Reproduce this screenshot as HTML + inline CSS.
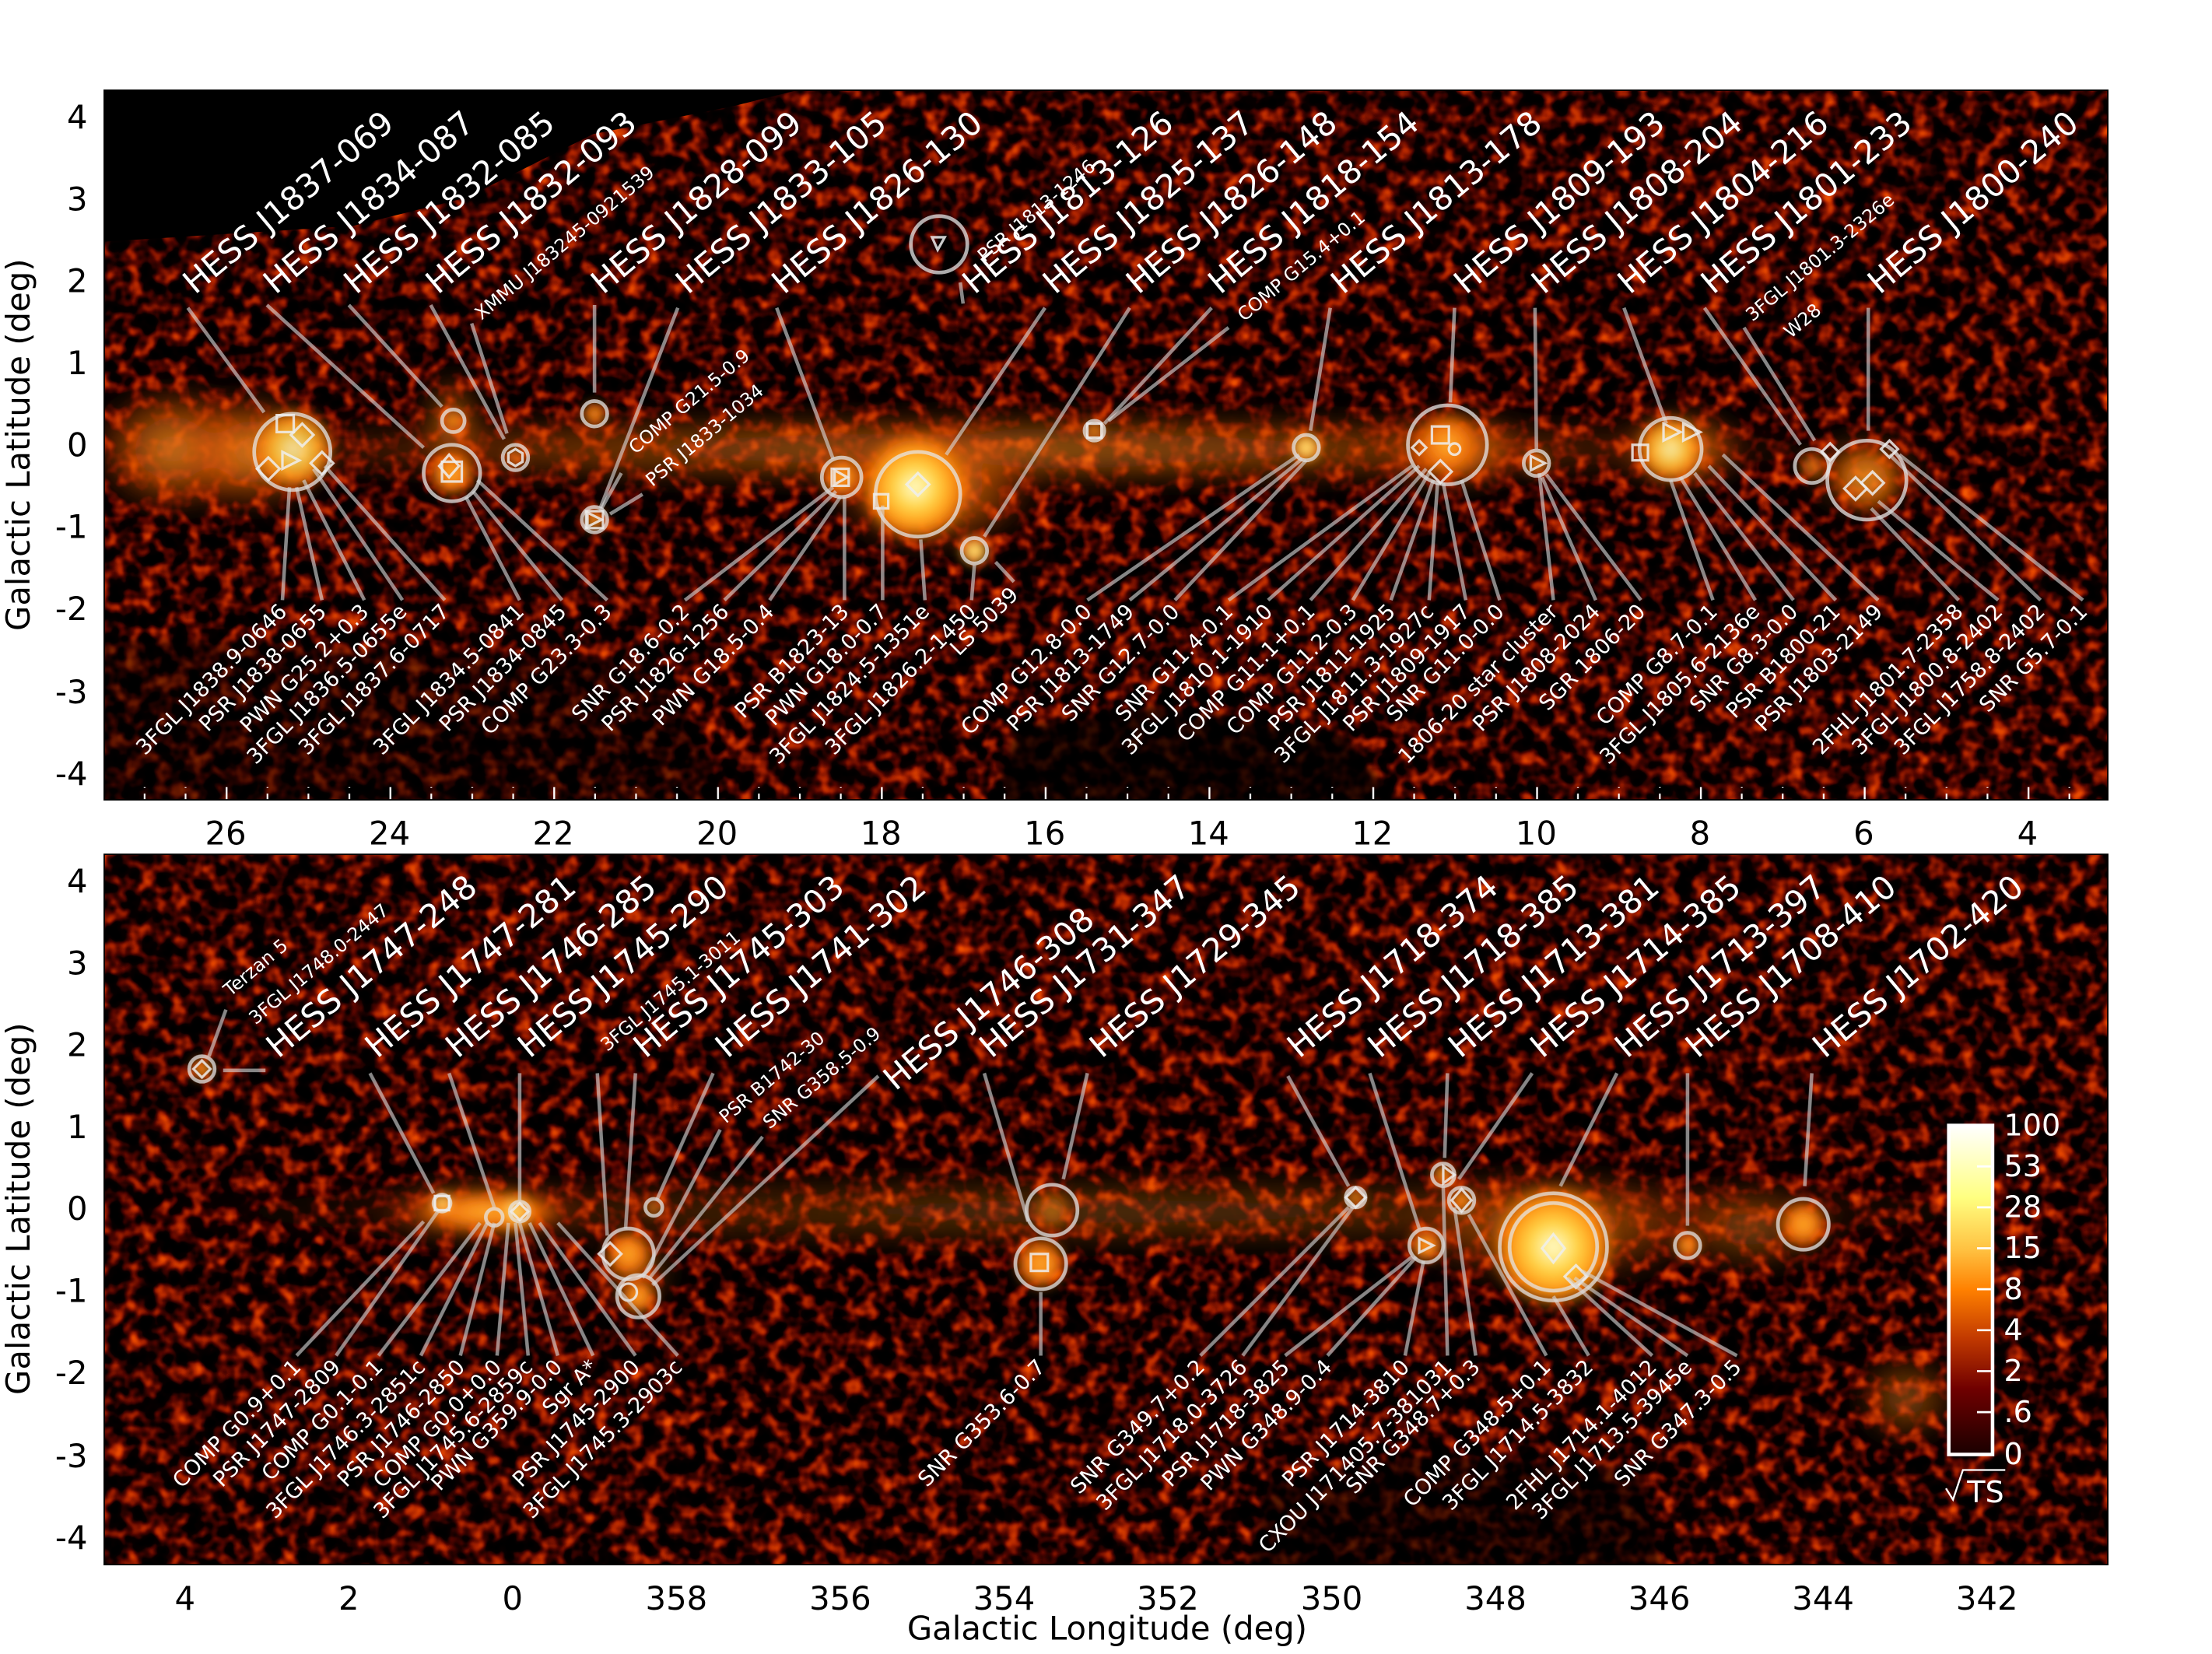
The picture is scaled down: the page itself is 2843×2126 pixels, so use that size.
<!DOCTYPE html>
<html><head><meta charset="utf-8"><style>
html,body{margin:0;padding:0;background:#fff;}
svg{display:block;}
text{font-family:"DejaVu Sans","Liberation Sans",sans-serif;}
.big{font-size:23px;fill:#fff;}
.sm{font-size:13px;fill:#fff;}
.sb{font-size:15px;fill:#fff;}
.tl{font-size:23px;fill:#000;}
.ln{stroke:#d8d8d8;stroke-opacity:.62;stroke-width:2.5;fill:none;}
.cc{stroke:#e6e6e6;stroke-opacity:.75;stroke-width:2.6;fill:none;}
.mk{stroke:#eee;stroke-opacity:.85;stroke-width:1.8;fill:none;}
</style></head><body>
<svg width="2843" height="2126" viewBox="0 0 1566.4 1171.3" preserveAspectRatio="none" xmlns="http://www.w3.org/2000/svg">
<defs>
<filter id="nz" x="0" y="0" width="1" height="1" color-interpolation-filters="sRGB">
<feTurbulence type="fractalNoise" baseFrequency="0.09" numOctaves="2" seed="7"/>
<feColorMatrix type="matrix" values="1 0 0 0 0  1 0 0 0 0  1 0 0 0 0  0 0 0 0 1"/>
<feComponentTransfer>
<feFuncR type="table" tableValues="0 0 0 0.03 0.32 0.66 0.9 1"/>
<feFuncG type="table" tableValues="0 0 0 0 0.02 0.13 0.28 0.42"/>
<feFuncB type="table" tableValues="0 0 0 0 0 0 0 0.04"/>
<feFuncA type="linear" slope="0" intercept="1"/>
</feComponentTransfer>
</filter>
<filter id="bl" x="-50%" y="-50%" width="200%" height="200%"><feGaussianBlur stdDeviation="8"/></filter>
<filter id="bl3" x="-50%" y="-50%" width="200%" height="200%"><feGaussianBlur stdDeviation="3"/></filter>
<filter id="bl2" x="-50%" y="-50%" width="200%" height="200%"><feGaussianBlur stdDeviation="4"/></filter>
<radialGradient id="glow"><stop offset="0" stop-color="#ff9a25" stop-opacity=".85"/><stop offset=".55" stop-color="#d85a05" stop-opacity=".55"/><stop offset="1" stop-color="#a02000" stop-opacity="0"/></radialGradient>
<radialGradient id="hot"><stop offset="0" stop-color="#ffffd8"/><stop offset=".35" stop-color="#ffd848"/><stop offset=".7" stop-color="#ff9010"/><stop offset="1" stop-color="#ff6a00" stop-opacity="0"/></radialGradient>
<radialGradient id="warm"><stop offset="0" stop-color="#ffb030"/><stop offset=".6" stop-color="#f07008"/><stop offset="1" stop-color="#e05000" stop-opacity="0"/></radialGradient>
<linearGradient id="cb" x1="0" y1="0" x2="0" y2="1">
<stop offset="0" stop-color="#ffffff"/><stop offset=".22" stop-color="#ffff80"/><stop offset=".38" stop-color="#ffc040"/><stop offset=".5" stop-color="#ff8000"/><stop offset=".65" stop-color="#c03800"/><stop offset=".8" stop-color="#700000"/><stop offset="1" stop-color="#1a0000"/></linearGradient>
<clipPath id="c1"><rect x="73.8" y="63.9" width="1418.8" height="502.5"/></clipPath>
<clipPath id="c2"><rect x="73.8" y="605" width="1418.8" height="503"/></clipPath>
<pattern id="xt1" x="43.8" y="0" width="116" height="2000" patternUnits="userSpaceOnUse"><rect x="0" y="0" width="1.3" height="9" fill="#fff"/><rect x="29" y="0" width="1.2" height="5" fill="#fff"/><rect x="58" y="0" width="1.2" height="5" fill="#fff"/><rect x="87" y="0" width="1.2" height="5" fill="#fff"/></pattern>
<pattern id="xb1" x="43.8" y="0" width="116" height="9" patternUnits="userSpaceOnUse"><rect x="0" y="0" width="1.3" height="9" fill="#fff"/><rect x="29" y="4" width="1.2" height="5" fill="#fff"/><rect x="58" y="4" width="1.2" height="5" fill="#fff"/><rect x="87" y="4" width="1.2" height="5" fill="#fff"/></pattern>
<pattern id="xt2" x="15" y="0" width="116" height="2000" patternUnits="userSpaceOnUse"><rect x="0" y="0" width="1.3" height="9" fill="#fff"/><rect x="29" y="0" width="1.2" height="5" fill="#fff"/><rect x="58" y="0" width="1.2" height="5" fill="#fff"/><rect x="87" y="0" width="1.2" height="5" fill="#fff"/></pattern>
<pattern id="yl1" x="0" y="24.1" width="2000" height="58.1" patternUnits="userSpaceOnUse"><rect x="0" y="0" width="9" height="1.3" fill="#fff"/><rect x="0" y="14.5" width="5" height="1.2" fill="#fff"/><rect x="0" y="29" width="5" height="1.2" fill="#fff"/><rect x="0" y="43.6" width="5" height="1.2" fill="#fff"/></pattern>
<pattern id="yl2" x="0" y="42.2" width="2000" height="58.1" patternUnits="userSpaceOnUse"><rect x="0" y="0" width="9" height="1.3" fill="#fff"/><rect x="0" y="14.5" width="5" height="1.2" fill="#fff"/><rect x="0" y="29" width="5" height="1.2" fill="#fff"/><rect x="0" y="43.6" width="5" height="1.2" fill="#fff"/></pattern>
</defs>

<!-- ===== TOP PANEL ===== -->
<g clip-path="url(#c1)">
<rect x="73.8" y="63.9" width="1418.8" height="502.5" fill="#000"/>
<rect x="73.8" y="63.9" width="1418.8" height="502.5" filter="url(#nz)"/>
<polygon points="60,50 620,50 520,75 420,95 330,140 250,160 60,172" fill="#000"/>
<g filter="url(#bl3)">
<polygon points="60,580 60,450 250,460 470,470 520,580" fill="#000" opacity=".45"/>
<polygon points="700,580 720,515 820,500 950,520 1000,580" fill="#000" opacity=".75"/>
</g>
<g filter="url(#bl)">
<ellipse cx="700" cy="318" rx="640" ry="28" fill="url(#glow)" opacity=".75"/>
<ellipse cx="125" cy="318" rx="65" ry="48" fill="url(#glow)"/>
<ellipse cx="180" cy="320" rx="60" ry="45" fill="url(#glow)"/>
<ellipse cx="660" cy="345" rx="80" ry="48" fill="url(#glow)"/>
<ellipse cx="1030" cy="318" rx="55" ry="30" fill="url(#glow)"/>
<ellipse cx="1190" cy="318" rx="50" ry="30" fill="url(#glow)"/>
<ellipse cx="1320" cy="335" rx="45" ry="30" fill="url(#glow)" opacity=".7"/>
<ellipse cx="320" cy="300" rx="25" ry="40" fill="url(#glow)" opacity=".7"/>
</g>
<g filter="url(#bl2)">
<circle cx="208" cy="318" r="30" fill="url(#hot)" opacity=".85"/>
<circle cx="320" cy="335" r="18" fill="url(#warm)"/>
<circle cx="321" cy="298" r="8" fill="url(#warm)"/>
<circle cx="365" cy="324" r="8" fill="url(#warm)" opacity=".7"/>
<circle cx="421" cy="293" r="9" fill="url(#warm)"/>
<circle cx="421" cy="368" r="9" fill="url(#warm)"/>
<circle cx="596" cy="338" r="16" fill="url(#warm)"/>
<circle cx="648" cy="345" r="40" fill="url(#hot)"/>
<circle cx="690" cy="390" r="11" fill="url(#hot)"/>
<circle cx="775" cy="305" r="7" fill="url(#warm)"/>
<circle cx="925" cy="317" r="11" fill="url(#hot)"/>
<circle cx="1025" cy="315" r="24" fill="url(#warm)"/>
<circle cx="1088" cy="328" r="9" fill="url(#warm)"/>
<circle cx="1183" cy="318" r="24" fill="url(#hot)" opacity=".9"/>
<circle cx="1283" cy="330" r="10" fill="url(#warm)" opacity=".7"/>
<circle cx="1322" cy="340" r="25" fill="url(#warm)" opacity=".6"/>
</g>
<circle class="cc" cx="207" cy="320" r="27"/>
<circle class="cc" cx="321" cy="298" r="8"/>
<circle class="cc" cx="320" cy="335" r="20"/>
<circle class="cc" cx="365" cy="324" r="9"/>
<circle class="cc" cx="421" cy="293" r="9"/>
<circle class="cc" cx="421" cy="368" r="9"/>
<circle class="cc" cx="596" cy="338" r="14"/>
<circle class="cc" cx="650" cy="350" r="30"/>
<circle class="cc" cx="690" cy="390" r="9"/>
<circle class="cc" cx="665" cy="173" r="20"/>
<circle class="cc" cx="775" cy="305" r="7"/>
<circle class="cc" cx="925" cy="317" r="9"/>
<circle class="cc" cx="1025" cy="315" r="28"/>
<circle class="cc" cx="1088" cy="328" r="9"/>
<circle class="cc" cx="1183" cy="318" r="22"/>
<circle class="cc" cx="1283" cy="330" r="12"/>
<circle class="cc" cx="1322" cy="340" r="28"/>
<rect class="mk" x="196" y="294" width="12" height="12"/>
<polygon class="mk" points="214,300 222,308 214,316 206,308"/>
<polygon class="mk" points="190,324 198,332 190,340 182,332"/>
<polygon class="mk" points="228,320 236,328 228,336 220,328"/>
<polygon class="mk" points="200,320 212,326 200,332"/>
<polygon class="mk" points="318,322 325,330 318,338 311,330"/>
<rect class="mk" x="313" y="327" width="14" height="14"/>
<polygon class="mk" points="365,318 370,321 370,327 365,330 360,327 360,321"/>
<polygon class="mk" points="416,363 426,368 416,373"/>
<rect class="mk" x="415" y="362" width="12" height="12"/>
<rect class="mk" x="589" y="332" width="12" height="12"/>
<polygon class="mk" points="591,333 600,338 591,343"/>
<rect class="mk" x="619" y="350" width="10" height="10"/>
<polygon class="mk" points="650,335 658,343 650,351 642,343"/>
<polygon class="mk" points="660,168 669,168 664,177"/>
<rect class="mk" x="770" y="300" width="10" height="10"/>
<rect class="mk" x="1014" y="302" width="12" height="12"/>
<polygon class="mk" points="1005,312 1010,317 1005,322 1000,317"/>
<circle class="mk" cx="1030" cy="318" r="4"/>
<polygon class="mk" points="1020,326 1028,334 1020,342 1012,334"/>
<polygon class="mk" points="1084,323 1094,328 1084,333"/>
<rect class="mk" x="1156" y="315" width="11" height="11"/>
<polygon class="mk" points="1178,300 1190,306 1178,312"/>
<polygon class="mk" points="1192,300 1204,306 1192,312"/>
<polygon class="mk" points="1296,314 1302,320 1296,326 1290,320"/>
<polygon class="mk" points="1314,338 1322,346 1314,354 1306,346"/>
<polygon class="mk" points="1326,334 1334,342 1326,350 1318,342"/>
<polygon class="mk" points="1338,312 1344,318 1338,324 1332,318"/>
<g class="ln">
<line x1="133" y1="218" x2="187" y2="292"/>
<line x1="189" y1="216" x2="300" y2="317"/>
<line x1="247" y1="216" x2="313" y2="288"/>
<line x1="305" y1="216" x2="357" y2="311"/>
<line x1="334" y1="229" x2="359" y2="307"/>
<line x1="421" y1="216" x2="421" y2="278"/>
<line x1="480" y1="218" x2="425" y2="360"/>
<line x1="440" y1="335" x2="426" y2="360"/>
<line x1="455" y1="350" x2="432" y2="364"/>
<line x1="550" y1="218" x2="590" y2="325"/>
<line x1="682" y1="215" x2="680" y2="200"/>
<line x1="740" y1="218" x2="670" y2="322"/>
<line x1="800" y1="218" x2="697" y2="380"/>
<line x1="858" y1="218" x2="782" y2="300"/>
<line x1="870" y1="232" x2="785" y2="298"/>
<line x1="942" y1="218" x2="928" y2="305"/>
<line x1="1030" y1="218" x2="1027" y2="285"/>
<line x1="1087" y1="218" x2="1088" y2="318"/>
<line x1="1150" y1="218" x2="1180" y2="300"/>
<line x1="1207" y1="218" x2="1275" y2="315"/>
<line x1="1235" y1="232" x2="1285" y2="312"/>
<line x1="1323" y1="218" x2="1323" y2="305"/>
<line x1="200" y1="425" x2="205" y2="345"/>
<line x1="228" y1="425" x2="210" y2="345"/>
<line x1="258" y1="425" x2="215" y2="340"/>
<line x1="285" y1="425" x2="222" y2="332"/>
<line x1="315" y1="425" x2="230" y2="330"/>
<line x1="368" y1="425" x2="330" y2="352"/>
<line x1="398" y1="425" x2="335" y2="348"/>
<line x1="430" y1="425" x2="338" y2="340"/>
<line x1="485" y1="425" x2="590" y2="345"/>
<line x1="513" y1="425" x2="592" y2="348"/>
<line x1="545" y1="425" x2="595" y2="352"/>
<line x1="598" y1="425" x2="598" y2="352"/>
<line x1="625" y1="425" x2="625" y2="358"/>
<line x1="655" y1="425" x2="652" y2="382"/>
<line x1="688" y1="425" x2="690" y2="400"/>
<line x1="718" y1="412" x2="705" y2="398"/>
<line x1="770" y1="425" x2="920" y2="322"/>
<line x1="800" y1="425" x2="922" y2="325"/>
<line x1="832" y1="425" x2="925" y2="326"/>
<line x1="870" y1="425" x2="1000" y2="330"/>
<line x1="898" y1="425" x2="1005" y2="330"/>
<line x1="928" y1="425" x2="1010" y2="332"/>
<line x1="958" y1="425" x2="1012" y2="335"/>
<line x1="985" y1="425" x2="1015" y2="340"/>
<line x1="1012" y1="425" x2="1018" y2="342"/>
<line x1="1038" y1="425" x2="1022" y2="342"/>
<line x1="1062" y1="425" x2="1035" y2="340"/>
<line x1="1100" y1="425" x2="1090" y2="335"/>
<line x1="1130" y1="425" x2="1092" y2="338"/>
<line x1="1162" y1="425" x2="1095" y2="336"/>
<line x1="1213" y1="425" x2="1183" y2="340"/>
<line x1="1243" y1="425" x2="1190" y2="338"/>
<line x1="1270" y1="425" x2="1200" y2="335"/>
<line x1="1300" y1="425" x2="1210" y2="330"/>
<line x1="1330" y1="425" x2="1220" y2="322"/>
<line x1="1387" y1="425" x2="1325" y2="360"/>
<line x1="1415" y1="425" x2="1330" y2="355"/>
<line x1="1445" y1="425" x2="1338" y2="322"/>
<line x1="1475" y1="425" x2="1345" y2="322"/>
</g>
<g class="big">
<text transform="translate(138,209) rotate(-40)">HESS J1837-069</text>
<text transform="translate(195,209) rotate(-40)">HESS J1834-087</text>
<text transform="translate(252,209) rotate(-40)">HESS J1832-085</text>
<text transform="translate(310,209) rotate(-40)">HESS J1832-093</text>
<text transform="translate(427,209) rotate(-40)">HESS J1828-099</text>
<text transform="translate(487,209) rotate(-40)">HESS J1833-105</text>
<text transform="translate(555,209) rotate(-40)">HESS J1826-130</text>
<text transform="translate(690,209) rotate(-40)">HESS J1813-126</text>
<text transform="translate(747,209) rotate(-40)">HESS J1825-137</text>
<text transform="translate(806,209) rotate(-40)">HESS J1826-148</text>
<text transform="translate(864,209) rotate(-40)">HESS J1818-154</text>
<text transform="translate(951,209) rotate(-40)">HESS J1813-178</text>
<text transform="translate(1038,209) rotate(-40)">HESS J1809-193</text>
<text transform="translate(1093,209) rotate(-40)">HESS J1808-204</text>
<text transform="translate(1154,209) rotate(-40)">HESS J1804-216</text>
<text transform="translate(1213,209) rotate(-40)">HESS J1801-233</text>
<text transform="translate(1331,209) rotate(-40)">HESS J1800-240</text>
</g>
<g class="sm">
<text transform="translate(341,227) rotate(-40)">XMMU J183245-0921539</text>
<text transform="translate(697,186) rotate(-40)">PSR J1813-1246</text>
<text transform="translate(881,228) rotate(-40)">COMP G15.4+0.1</text>
<text transform="translate(1241,228) rotate(-40)">3FGL J1801.3-2326e</text>
<text transform="translate(1268,240) rotate(-40)">W28</text>
<text transform="translate(450,322) rotate(-40)">COMP G21.5-0.9</text>
<text transform="translate(462,345) rotate(-40)">PSR J1833-1034</text>
</g>
<g class="sb" text-anchor="end">
<text transform="translate(204,434) rotate(-45)">3FGL J1838.9-0646</text>
<text transform="translate(232,434) rotate(-45)">PSR J1838-0655</text>
<text transform="translate(262,434) rotate(-45)">PWN G25.2+0.3</text>
<text transform="translate(289,434) rotate(-45)">3FGL J1836.5-0655e</text>
<text transform="translate(319,434) rotate(-45)">3FGL J1837.6-0717</text>
<text transform="translate(372,434) rotate(-45)">3FGL J1834.5-0841</text>
<text transform="translate(402,434) rotate(-45)">PSR J1834-0845</text>
<text transform="translate(434,434) rotate(-45)">COMP G23.3-0.3</text>
<text transform="translate(489,434) rotate(-45)">SNR G18.6-0.2</text>
<text transform="translate(517,434) rotate(-45)">PSR J1826-1256</text>
<text transform="translate(549,434) rotate(-45)">PWN G18.5-0.4</text>
<text transform="translate(602,434) rotate(-45)">PSR B1823-13</text>
<text transform="translate(629,434) rotate(-45)">PWN G18.0-0.7</text>
<text transform="translate(659,434) rotate(-45)">3FGL J1824.5-1351e</text>
<text transform="translate(692,434) rotate(-45)">3FGL J1826.2-1450</text>
<text transform="translate(722,422) rotate(-45)">LS 5039</text>
<text transform="translate(774,434) rotate(-45)">COMP G12.8-0.0</text>
<text transform="translate(804,434) rotate(-45)">PSR J1813-1749</text>
<text transform="translate(836,434) rotate(-45)">SNR G12.7-0.0</text>
<text transform="translate(874,434) rotate(-45)">SNR G11.4-0.1</text>
<text transform="translate(902,434) rotate(-45)">3FGL J1810.1-1910</text>
<text transform="translate(932,434) rotate(-45)">COMP G11.1+0.1</text>
<text transform="translate(962,434) rotate(-45)">COMP G11.2-0.3</text>
<text transform="translate(989,434) rotate(-45)">PSR J1811-1925</text>
<text transform="translate(1016,434) rotate(-45)">3FGL J1811.3-1927c</text>
<text transform="translate(1042,434) rotate(-45)">PSR J1809-1917</text>
<text transform="translate(1066,434) rotate(-45)">SNR G11.0-0.0</text>
<text transform="translate(1104,434) rotate(-45)">1806-20 star cluster</text>
<text transform="translate(1134,434) rotate(-45)">PSR J1808-2024</text>
<text transform="translate(1166,434) rotate(-45)">SGR 1806-20</text>
<text transform="translate(1217,434) rotate(-45)">COMP G8.7-0.1</text>
<text transform="translate(1247,434) rotate(-45)">3FGL J1805.6-2136e</text>
<text transform="translate(1274,434) rotate(-45)">SNR G8.3-0.0</text>
<text transform="translate(1304,434) rotate(-45)">PSR B1800-21</text>
<text transform="translate(1334,434) rotate(-45)">PSR J1803-2149</text>
<text transform="translate(1391,434) rotate(-45)">2FHL J1801.7-2358</text>
<text transform="translate(1419,434) rotate(-45)">3FGL J1800.8-2402</text>
<text transform="translate(1449,434) rotate(-45)">3FGL J1758.8-2402</text>
<text transform="translate(1479,434) rotate(-45)">SNR G5.7-0.1</text>
</g>
<rect x="73.8" y="63.9" width="1418.8" height="9" fill="url(#xt1)"/>
<rect x="73.8" y="557.4" width="1418.8" height="9" fill="url(#xb1)"/>
<rect x="73.8" y="63.9" width="9" height="502.5" fill="url(#yl1)"/>
<rect x="1483.6" y="63.9" width="9" height="502.5" fill="url(#yl1)" transform="translate(2976.2,0) scale(-1,1)"/>
</g>
<rect x="73.8" y="63.9" width="1418.8" height="502.5" fill="none" stroke="#000" stroke-width="1"/>

<!-- ===== BOTTOM PANEL ===== -->
<g clip-path="url(#c2)">
<rect x="73.8" y="605" width="1418.8" height="503" fill="#000"/>
<rect x="73.8" y="605" width="1418.8" height="503" filter="url(#nz)"/>
<g filter="url(#bl3)">
<polygon points="880,1120 900,1050 1000,1030 1160,1040 1180,1120" fill="#000" opacity=".6"/>
</g>
<g filter="url(#bl)">
<ellipse cx="780" cy="858" rx="720" ry="30" fill="url(#glow)" opacity=".4"/>
<ellipse cx="340" cy="858" rx="80" ry="22" fill="url(#glow)"/>
<ellipse cx="1100" cy="870" rx="120" ry="45" fill="url(#glow)" opacity=".7"/>
<ellipse cx="1240" cy="870" rx="70" ry="35" fill="url(#glow)" opacity=".5"/>
<ellipse cx="1350" cy="990" rx="40" ry="35" fill="url(#glow)" opacity=".6"/>
<ellipse cx="450" cy="900" rx="30" ry="30" fill="url(#glow)" opacity=".6"/>
</g>
<g filter="url(#bl2)">
<circle cx="143" cy="757" r="9" fill="url(#warm)"/>
<ellipse cx="345" cy="858" rx="55" ry="14" fill="url(#warm)"/>
<circle cx="365" cy="858" r="14" fill="url(#hot)" opacity=".8"/>
<circle cx="313" cy="852" r="8" fill="url(#hot)"/>
<circle cx="445" cy="888" r="18" fill="url(#warm)"/>
<circle cx="452" cy="918" r="14" fill="url(#warm)"/>
<circle cx="463" cy="855" r="6" fill="url(#warm)"/>
<circle cx="737" cy="895" r="20" fill="url(#warm)"/>
<circle cx="745" cy="857" r="15" fill="url(#warm)" opacity=".5"/>
<circle cx="960" cy="848" r="7" fill="url(#warm)"/>
<circle cx="1010" cy="882" r="13" fill="url(#warm)"/>
<circle cx="1022" cy="832" r="9" fill="url(#warm)"/>
<circle cx="1035" cy="850" r="9" fill="url(#warm)"/>
<circle cx="1100" cy="883" r="46" fill="url(#hot)"/>
<circle cx="1195" cy="882" r="10" fill="url(#warm)"/>
<circle cx="1277" cy="867" r="18" fill="url(#warm)"/>
</g>
<circle class="cc" cx="143" cy="757" r="9"/>
<circle class="cc" cx="313" cy="852" r="6"/>
<circle class="cc" cx="350" cy="862" r="6"/>
<circle class="cc" cx="368" cy="858" r="7"/>
<circle class="cc" cx="445" cy="888" r="18"/>
<circle class="cc" cx="452" cy="918" r="15"/>
<circle class="cc" cx="463" cy="855" r="6"/>
<circle class="cc" cx="737" cy="895" r="18"/>
<circle class="cc" cx="745" cy="857" r="18"/>
<circle class="cc" cx="960" cy="848" r="7"/>
<circle class="cc" cx="1010" cy="882" r="12"/>
<circle class="cc" cx="1022" cy="832" r="8"/>
<circle class="cc" cx="1035" cy="850" r="9"/>
<circle class="cc" cx="1100" cy="883" r="38"/>
<circle class="cc" cx="1100" cy="883" r="31"/>
<circle class="cc" cx="1195" cy="882" r="9"/>
<circle class="cc" cx="1277" cy="867" r="18"/>
<polygon class="mk" points="143,751 149,757 143,763 137,757"/>
<rect class="mk" x="308" y="847" width="10" height="10"/>
<polygon class="mk" points="368,852 374,858 368,864 362,858"/>
<polygon class="mk" points="432,880 440,888 432,896 424,888"/>
<circle class="mk" cx="445" cy="915" r="6"/>
<rect class="mk" x="730" y="888" width="12" height="12"/>
<polygon class="mk" points="960,841 967,848 960,855 953,848"/>
<polygon class="mk" points="1005,877 1015,882 1005,887"/>
<polygon class="mk" points="1022,826 1030,832 1022,838"/>
<polygon class="mk" points="1035,842 1042,850 1035,858 1028,850"/>
<polygon class="mk" points="1100,874 1108,884 1100,894 1092,884"/>
<polygon class="mk" points="1116,896 1124,904 1116,912 1108,904"/>
<g class="ln">
<line x1="160" y1="715" x2="148" y2="748"/>
<line x1="158" y1="758" x2="188" y2="758"/>
<line x1="262" y1="760" x2="307" y2="845"/>
<line x1="318" y1="760" x2="350" y2="855"/>
<line x1="368" y1="760" x2="368" y2="850"/>
<line x1="423" y1="760" x2="430" y2="875"/>
<line x1="450" y1="760" x2="443" y2="870"/>
<line x1="505" y1="760" x2="465" y2="850"/>
<line x1="510" y1="800" x2="455" y2="905"/>
<line x1="540" y1="805" x2="460" y2="905"/>
<line x1="622" y1="762" x2="462" y2="910"/>
<line x1="697" y1="760" x2="728" y2="865"/>
<line x1="770" y1="760" x2="753" y2="835"/>
<line x1="912" y1="762" x2="955" y2="840"/>
<line x1="970" y1="760" x2="1005" y2="870"/>
<line x1="1025" y1="760" x2="1023" y2="820"/>
<line x1="1085" y1="760" x2="1033" y2="835"/>
<line x1="1145" y1="760" x2="1105" y2="840"/>
<line x1="1195" y1="760" x2="1195" y2="868"/>
<line x1="1283" y1="760" x2="1278" y2="840"/>
<line x1="210" y1="960" x2="300" y2="865"/>
<line x1="238" y1="960" x2="310" y2="858"/>
<line x1="268" y1="960" x2="340" y2="866"/>
<line x1="298" y1="960" x2="345" y2="866"/>
<line x1="326" y1="960" x2="350" y2="866"/>
<line x1="352" y1="960" x2="360" y2="866"/>
<line x1="374" y1="960" x2="365" y2="866"/>
<line x1="395" y1="960" x2="368" y2="866"/>
<line x1="420" y1="960" x2="375" y2="866"/>
<line x1="450" y1="960" x2="382" y2="866"/>
<line x1="480" y1="960" x2="395" y2="866"/>
<line x1="737" y1="960" x2="737" y2="915"/>
<line x1="850" y1="960" x2="955" y2="855"/>
<line x1="880" y1="960" x2="958" y2="855"/>
<line x1="910" y1="960" x2="1000" y2="890"/>
<line x1="940" y1="960" x2="1003" y2="890"/>
<line x1="995" y1="960" x2="1008" y2="893"/>
<line x1="1025" y1="960" x2="1022" y2="840"/>
<line x1="1045" y1="960" x2="1030" y2="855"/>
<line x1="1095" y1="960" x2="1040" y2="860"/>
<line x1="1125" y1="960" x2="1100" y2="918"/>
<line x1="1170" y1="960" x2="1110" y2="905"/>
<line x1="1195" y1="960" x2="1115" y2="905"/>
<line x1="1230" y1="960" x2="1120" y2="900"/>
</g>
<g class="big">
<text transform="translate(197,750) rotate(-40)">HESS J1747-248</text>
<text transform="translate(267,750) rotate(-40)">HESS J1747-281</text>
<text transform="translate(324,750) rotate(-40)">HESS J1746-285</text>
<text transform="translate(375,750) rotate(-40)">HESS J1745-290</text>
<text transform="translate(457,750) rotate(-40)">HESS J1745-303</text>
<text transform="translate(515,750) rotate(-40)">HESS J1741-302</text>
<text transform="translate(634,773) rotate(-40)">HESS J1746-308</text>
<text transform="translate(702,750) rotate(-40)">HESS J1731-347</text>
<text transform="translate(780,750) rotate(-40)">HESS J1729-345</text>
<text transform="translate(920,750) rotate(-40)">HESS J1718-374</text>
<text transform="translate(977,750) rotate(-40)">HESS J1718-385</text>
<text transform="translate(1034,750) rotate(-40)">HESS J1713-381</text>
<text transform="translate(1092,750) rotate(-40)">HESS J1714-385</text>
<text transform="translate(1152,750) rotate(-40)">HESS J1713-397</text>
<text transform="translate(1202,750) rotate(-40)">HESS J1708-410</text>
<text transform="translate(1292,750) rotate(-40)">HESS J1702-420</text>
</g>
<g class="sm">
<text transform="translate(163,706) rotate(-40)">Terzan 5</text>
<text transform="translate(181,726) rotate(-40)">3FGL J1748.0-2447</text>
<text transform="translate(430,745) rotate(-40)">3FGL J1745.1-3011</text>
<text transform="translate(514,796) rotate(-40)">PSR B1742-30</text>
<text transform="translate(545,800) rotate(-40)">SNR G358.5-0.9</text>
</g>
<g class="sb" text-anchor="end">
<text transform="translate(214,969) rotate(-45)">COMP G0.9+0.1</text>
<text transform="translate(242,969) rotate(-45)">PSR J1747-2809</text>
<text transform="translate(272,969) rotate(-45)">COMP G0.1-0.1</text>
<text transform="translate(302,969) rotate(-45)">3FGL J1746.3-2851c</text>
<text transform="translate(330,969) rotate(-45)">PSR J1746-2850</text>
<text transform="translate(356,969) rotate(-45)">COMP G0.0+0.0</text>
<text transform="translate(378,969) rotate(-45)">3FGL J1745.6-2859c</text>
<text transform="translate(399,969) rotate(-45)">PWN G359.9-0.0</text>
<text transform="translate(424,969) rotate(-45)">Sgr A*</text>
<text transform="translate(454,969) rotate(-45)">PSR J1745-2900</text>
<text transform="translate(484,969) rotate(-45)">3FGL J1745.3-2903c</text>
<text transform="translate(741,969) rotate(-45)">SNR G353.6-0.7</text>
<text transform="translate(854,969) rotate(-45)">SNR G349.7+0.2</text>
<text transform="translate(884,969) rotate(-45)">3FGL J1718.0-3726</text>
<text transform="translate(914,969) rotate(-45)">PSR J1718-3825</text>
<text transform="translate(944,969) rotate(-45)">PWN G348.9-0.4</text>
<text transform="translate(999,969) rotate(-45)">PSR J1714-3810</text>
<text transform="translate(1029,969) rotate(-45)">CXOU J171405.7-381031</text>
<text transform="translate(1049,969) rotate(-45)">SNR G348.7+0.3</text>
<text transform="translate(1099,969) rotate(-45)">COMP G348.5+0.1</text>
<text transform="translate(1129,969) rotate(-45)">3FGL J1714.5-3832</text>
<text transform="translate(1174,969) rotate(-45)">2FHL J1714.1-4012</text>
<text transform="translate(1199,969) rotate(-45)">3FGL J1713.5-3945e</text>
<text transform="translate(1234,969) rotate(-45)">SNR G347.3-0.5</text>
</g>
<rect x="1380" y="797" width="31" height="233" fill="url(#cb)" stroke="#fff" stroke-width="2.5"/>
<g stroke="#fff" stroke-width="1.5">
<line x1="1400" y1="826" x2="1410" y2="826"/><line x1="1400" y1="855" x2="1410" y2="855"/>
<line x1="1400" y1="884" x2="1410" y2="884"/><line x1="1400" y1="913" x2="1410" y2="913"/>
<line x1="1400" y1="942" x2="1410" y2="942"/><line x1="1400" y1="971" x2="1410" y2="971"/>
<line x1="1400" y1="1000" x2="1410" y2="1000"/>
</g>
<g fill="#fff" font-size="21">
<text x="1419" y="804">100</text><text x="1419" y="833">53</text><text x="1419" y="862">28</text>
<text x="1419" y="891">15</text><text x="1419" y="920">8</text><text x="1419" y="949">4</text>
<text x="1419" y="978">2</text><text x="1419" y="1007">.6</text><text x="1419" y="1037">0</text>
</g>
<path d="M1378,1054 L1383,1062 L1390,1041 L1420,1041" stroke="#fff" stroke-width="1.3" fill="none"/>
<text x="1393" y="1064" fill="#fff" font-size="21">TS</text>
<rect x="73.8" y="605" width="1418.8" height="9" fill="url(#xt2)"/>
<rect x="73.8" y="1099" width="1418.8" height="9" fill="url(#xt2)" transform="translate(0,2207) scale(1,-1)"/>
<rect x="73.8" y="605" width="9" height="503" fill="url(#yl2)"/>
<rect x="1483.6" y="605" width="9" height="503" fill="url(#yl2)" transform="translate(2976.2,0) scale(-1,1)"/>
</g>
<rect x="73.8" y="605" width="1418.8" height="503" fill="none" stroke="#000" stroke-width="1"/>

<g class="tl" text-anchor="end">
<text x="62" y="91">4</text><text x="62" y="149">3</text><text x="62" y="207">2</text><text x="62" y="265">1</text>
<text x="62" y="323">0</text><text x="62" y="381">-1</text><text x="62" y="439">-2</text><text x="62" y="498">-3</text><text x="62" y="556">-4</text>
<text x="62" y="632">4</text><text x="62" y="690">3</text><text x="62" y="748">2</text><text x="62" y="806">1</text>
<text x="62" y="864">0</text><text x="62" y="922">-1</text><text x="62" y="980">-2</text><text x="62" y="1039">-3</text><text x="62" y="1097">-4</text>
</g>
<g class="tl" text-anchor="middle">
<text x="159.8" y="598">26</text><text x="275.8" y="598">24</text><text x="391.8" y="598">22</text><text x="507.8" y="598">20</text>
<text x="623.8" y="598">18</text><text x="739.8" y="598">16</text><text x="855.8" y="598">14</text><text x="971.8" y="598">12</text>
<text x="1087.8" y="598">10</text><text x="1203.8" y="598">8</text><text x="1319.8" y="598">6</text><text x="1435.8" y="598">4</text>
<text x="131" y="1140">4</text><text x="247" y="1140">2</text><text x="363" y="1140">0</text><text x="479" y="1140">358</text>
<text x="595" y="1140">356</text><text x="711" y="1140">354</text><text x="827" y="1140">352</text><text x="943" y="1140">350</text>
<text x="1059" y="1140">348</text><text x="1175" y="1140">346</text><text x="1291" y="1140">344</text><text x="1407" y="1140">342</text>
<text x="784" y="1161">Galactic Longitude (deg)</text>
<text transform="translate(21,315) rotate(-90)">Galactic Latitude (deg)</text>
<text transform="translate(21,856) rotate(-90)">Galactic Latitude (deg)</text>
</g>
</svg>
</body></html>
